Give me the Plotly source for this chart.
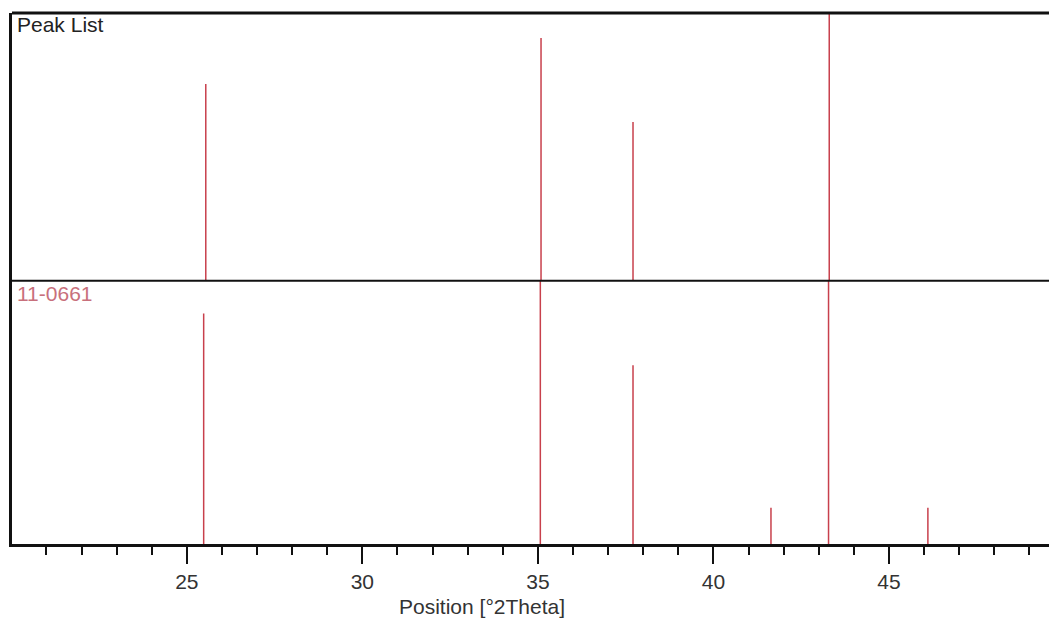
import plotly.graph_objects as go
from plotly.subplots import make_subplots

# Data
peak_list_pos = [25.54, 35.09, 37.71, 43.30]
peak_list_int = [73.5, 90.7, 59.3, 100.0]

ref_pos = [25.48, 35.07, 37.71, 41.64, 43.28, 46.11]
ref_int = [87.6, 100.0, 67.9, 13.8, 100.0, 13.8]

x_ticks = [25, 30, 35, 40, 45]
x_range = [20.02, 49.56]

LINE_COLOR = "#c8404c"
FONT = "Liberation Sans"


def stems(pos, inten):
    xs, ys = [], []
    for p, h in zip(pos, inten):
        xs += [p, p, None]
        ys += [0, h, None]
    return xs, ys


fig = make_subplots(rows=2, cols=1, shared_xaxes=True, vertical_spacing=0)

x1, y1 = stems(peak_list_pos, peak_list_int)
fig.add_trace(go.Scatter(x=x1, y=y1, mode="lines",
                         line=dict(color=LINE_COLOR, width=1.5),
                         hoverinfo="skip", showlegend=False), row=1, col=1)
x2, y2 = stems(ref_pos, ref_int)
fig.add_trace(go.Scatter(x=x2, y=y2, mode="lines",
                         line=dict(color=LINE_COLOR, width=1.5),
                         hoverinfo="skip", showlegend=False), row=2, col=1)

split = 263 / 530.5

fig.update_layout(
    width=1049, height=621,
    margin=dict(l=12, r=0, t=13, b=77),
    paper_bgcolor="white", plot_bgcolor="white",
    font=dict(family=FONT, size=21, color="#333333"),
    xaxis=dict(range=x_range, showgrid=False, zeroline=False, showticklabels=False,
               ticks="", showline=False),
    xaxis2=dict(range=x_range, showgrid=False, zeroline=False,
                tickmode="array", tickvals=x_ticks, ticktext=[str(t) for t in x_ticks],
                ticks="outside", ticklen=17, tickwidth=2, tickcolor="#111111",
                showline=True, linewidth=3, linecolor="#111111",
                tickfont=dict(family=FONT, size=21, color="#333333"),
                minor=dict(dtick=1, tick0=20, ticks="outside", ticklen=8,
                           tickwidth=2, tickcolor="#111111", showgrid=False)),
    yaxis=dict(domain=[split, 1], range=[0, 100], showgrid=False, zeroline=False,
               showticklabels=False, ticks="", showline=True, linewidth=3,
               linecolor="#111111"),
    yaxis2=dict(domain=[0, split], range=[0, 100], showgrid=False, zeroline=False,
                showticklabels=False, ticks="", showline=True, linewidth=3,
                linecolor="#111111"),
)

# top border and divider
fig.add_shape(type="line", xref="paper", yref="paper", x0=0, x1=1, y0=1, y1=1,
              line=dict(color="#111111", width=3))
fig.add_shape(type="line", xref="paper", yref="paper", x0=0, x1=1, y0=split, y1=split,
              line=dict(color="#111111", width=2))

fig.add_annotation(text="Peak List", xref="paper", yref="paper", x=0, y=1,
                   xanchor="left", yanchor="top", xshift=3, yshift=2, showarrow=False,
                   font=dict(family=FONT, size=21, color="#222222"))
fig.add_annotation(text="11-0661", xref="paper", yref="paper", x=0, y=split,
                   xanchor="left", yanchor="top", xshift=3, yshift=1, showarrow=False,
                   font=dict(family=FONT, size=21, color="#c8707c"))
fig.add_annotation(text="Position [°2Theta]", xref="x2", yref="paper", x=33.4, y=0,
                   xanchor="center", yanchor="top", yshift=-49, showarrow=False,
                   font=dict(family=FONT, size=21, color="#333333"))

fig.write_html("out.html")
